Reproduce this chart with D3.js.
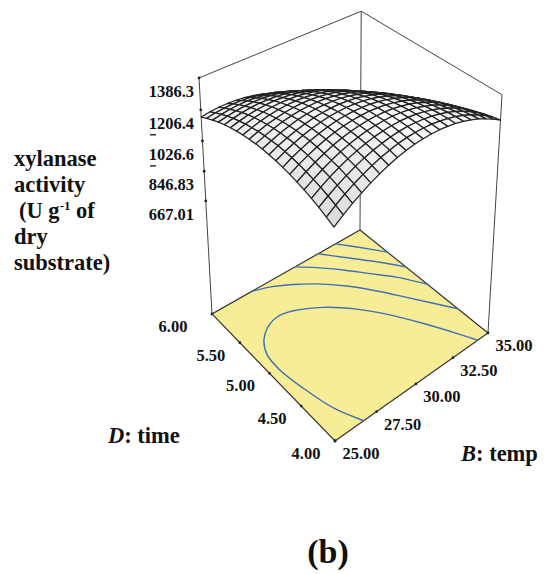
<!DOCTYPE html>
<html>
<head>
<meta charset="utf-8">
<script src="https://cdn.jsdelivr.net/npm/d3@7"></script>
<style>
  html, body { margin: 0; background: #fff; }
  text { font-family: "Liberation Serif", serif; font-weight: bold; fill: #111; }
</style>
</head>
<body>
<div id="chart"></div>
<script>
const tempTicks = [25, 27.5, 30, 32.5, 35];
const timeTicks = [4, 4.5, 5, 5.5, 6];
const zTicks = [1386.3, 1206.4, 1026.6, 846.83, 667.01];
const zTickLabels = ["1386.3", "1206.4", "1026.6", "846.83", "667.01"];

// floor contours as [temp, time]
const contourA = [[26.71,4],[26.09,4.29],[25.71,4.65],[25.51,4.97],[25.59,5.2],[26,5.37],[26.61,5.48],[27.47,5.54],[28.35,5.5],[29.69,5.34],[30.93,5.1],[31.99,4.82],[32.93,4.51],[33.68,4.23],[34.25,4]];
const contourB = [[27.49,6],[28.41,5.93],[29.49,5.8],[30.46,5.65],[31.6,5.42],[32.6,5.16],[33.5,4.89],[34.28,4.65],[35,4.43]];
const contourC = [[30.36,6],[31.24,5.84],[32.22,5.63],[33.17,5.4],[34.08,5.18],[35,4.89]];
const contourD = [[31.97,6],[32.85,5.78],[33.81,5.55],[35,5.23]];
const contourE = [[33.21,6],[34.07,5.78],[35,5.53]];

// rows run along time 4.00 -> 6.00, columns along temp 25 -> 35
const xylanase = [
  [1160,1197,1230,1259,1286,1308,1328,1344,1357,1366,1372,1374,1374,1369,1362,1351,1336,1319,1297,1273,1245],
  [1180,1215,1247,1275,1300,1321,1339,1354,1365,1373,1377,1378,1376,1370,1361,1349,1333,1314,1291,1265,1236],
  [1198,1232,1262,1288,1312,1332,1348,1361,1371,1378,1381,1380,1376,1369,1359,1345,1328,1307,1283,1255,1224],
  [1214,1246,1275,1300,1322,1340,1355,1367,1375,1380,1382,1380,1375,1366,1354,1339,1320,1298,1272,1243,1211],
  [1228,1258,1285,1309,1330,1347,1360,1371,1377,1381,1381,1378,1371,1361,1347,1331,1310,1287,1260,1229,1196],
  [1239,1268,1294,1316,1336,1351,1363,1372,1377,1379,1378,1373,1365,1354,1339,1320,1299,1274,1245,1213,1178],
  [1249,1277,1301,1322,1339,1353,1364,1371,1375,1376,1373,1367,1357,1344,1328,1308,1285,1259,1229,1195,1159],
  [1256,1283,1305,1325,1341,1354,1363,1369,1371,1370,1366,1358,1347,1333,1315,1294,1269,1241,1210,1175,1137],
  [1262,1287,1308,1326,1341,1352,1360,1364,1365,1363,1357,1348,1335,1319,1300,1277,1251,1222,1189,1153,1113],
  [1265,1289,1308,1325,1338,1348,1354,1357,1357,1353,1346,1335,1321,1304,1283,1259,1231,1201,1166,1129,1087],
  [1267,1288,1307,1322,1334,1342,1347,1348,1346,1341,1332,1320,1305,1286,1264,1238,1209,1177,1141,1102,1060],
  [1266,1286,1303,1317,1327,1334,1337,1337,1334,1327,1317,1304,1287,1266,1243,1216,1185,1151,1114,1074,1030],
  [1263,1282,1297,1309,1318,1324,1326,1324,1319,1311,1300,1285,1266,1245,1219,1191,1159,1124,1085,1043,998],
  [1258,1275,1289,1300,1307,1311,1312,1309,1303,1293,1280,1264,1244,1221,1194,1164,1131,1094,1054,1010,964],
  [1251,1267,1280,1289,1295,1297,1296,1292,1284,1273,1259,1241,1219,1195,1167,1135,1101,1062,1021,976,927],
  [1242,1256,1268,1275,1280,1281,1278,1273,1263,1251,1235,1216,1193,1167,1137,1104,1068,1029,985,939,889],
  [1231,1244,1254,1260,1263,1262,1258,1251,1241,1227,1209,1188,1164,1137,1106,1071,1034,993,948,900,849],
  [1218,1229,1237,1242,1244,1242,1237,1228,1216,1200,1181,1159,1134,1105,1072,1036,997,955,909,859,807],
  [1202,1212,1219,1223,1223,1219,1212,1202,1189,1172,1152,1128,1101,1070,1036,999,959,915,867,816,762],
  [1185,1194,1199,1201,1199,1195,1186,1175,1160,1141,1120,1094,1066,1034,999,960,918,872,824,771,716],
  [1165,1173,1177,1177,1174,1168,1158,1145,1129,1109,1086,1059,1029,996,959,919,875,828,778,724,667]
];

const width = 547;
const height = 574;
const nCols = xylanase[0].length;
const nRows = xylanase.length;

const svg = d3
  .select("#chart")
  .append("svg")
  .attr("width", width)
  .attr("height", height)
  .attr("viewBox", [0, 0, width, height])
  .style("display", "block");

const tempScale = d3.scaleLinear().domain([25, 35]).range([0, 1]);
const timeScale = d3.scaleLinear().domain([4, 6]).range([0, 1]);
const zScale = d3.scaleLinear().domain([667.01, 1386.3]).range([0.502, 1]);
const colScale = d3.scaleLinear().domain([0, nCols - 1]).range([0, 1]);
const rowScale = d3.scaleLinear().domain([0, nRows - 1]).range([0, 1]);

// perspective box: floor homography plus a vanishing point for the uprights
const front = [335, 441], right = [488, 333], back = [360, 230], left = [212, 314];
const vanish = [346, 2751];
const lift = -0.1005;

const dx1 = right[0] - back[0], dy1 = right[1] - back[1];
const dx2 = left[0] - back[0], dy2 = left[1] - back[1];
const sx = front[0] - right[0] + back[0] - left[0];
const sy = front[1] - right[1] + back[1] - left[1];
const det = dx1 * dy2 - dy1 * dx2;
const g = (sx * dy2 - sy * dx2) / det;
const h = (dx1 * sy - dy1 * sx) / det;
const a = right[0] * (1 + g) - front[0], b = left[0] * (1 + h) - front[0];
const d = right[1] * (1 + g) - front[1], e = left[1] * (1 + h) - front[1];

function project(u, v, w) {
  const den = g * u + h * v + 1 + lift * w;
  return [
    (a * u + b * v + front[0] + lift * w * vanish[0]) / den,
    (d * u + e * v + front[1] + lift * w * vanish[1]) / den,
  ];
}

const line = d3.line();

// uprights and top rails of the box
const frame = [
  [[0, 1, 0], [0, 1, 1]],
  [[1, 0, 0], [1, 0, 1]],
  [[1, 1, 0], [1, 1, 1]],
  [[0, 1, 1], [1, 1, 1]],
  [[1, 0, 1], [1, 1, 1]],
];
svg
  .append("g")
  .selectAll("path")
  .data(frame)
  .join("path")
  .attr("d", (s) => line(s.map((p) => project(...p))))
  .attr("fill", "none")
  .attr("stroke", "#444")
  .attr("stroke-width", 1);

// floor
svg
  .append("path")
  .attr("d", line([[0, 0], [1, 0], [1, 1], [0, 1]].map((p) => project(p[0], p[1], 0))) + "Z")
  .attr("fill", "#f6ed96")
  .attr("stroke", "#333")
  .attr("stroke-width", 1.2);

// contours on the floor
const contourLine = d3.line().curve(d3.curveCatmullRom);
svg
  .append("g")
  .selectAll("path")
  .data([contourA, contourB, contourC, contourD, contourE])
  .join("path")
  .attr("d", (c) => contourLine(c.map((p) => project(tempScale(p[0]), timeScale(p[1]), 0))))
  .attr("fill", "none")
  .attr("stroke", "#3f6fb4")
  .attr("stroke-width", 1.4);

// surface cells, far corner first so the near ones paint over
const cells = [];
for (let j = nRows - 2; j >= 0; j--) {
  for (let i = nCols - 2; i >= 0; i--) {
    cells.push({ i, j });
  }
}
const shade = d3.scaleLinear().domain([0, 45]).range(["#fcfcfc", "#dadada"]).clamp(true);
const slopeOf = ({ i, j }) => {
  const du = (xylanase[j][i + 1] + xylanase[j + 1][i + 1] - xylanase[j][i] - xylanase[j + 1][i]) / 2;
  const dv = (xylanase[j + 1][i] + xylanase[j + 1][i + 1] - xylanase[j][i] - xylanase[j][i + 1]) / 2;
  return Math.hypot(du, dv);
};
const node = (i, j) => project(colScale(i), rowScale(j), zScale(xylanase[j][i]));

svg
  .append("g")
  .selectAll("path")
  .data(cells)
  .join("path")
  .attr("d", (c) => line([node(c.i, c.j), node(c.i + 1, c.j), node(c.i + 1, c.j + 1), node(c.i, c.j + 1)]) + "Z")
  .attr("fill", (c) => shade(slopeOf(c)))
  .attr("stroke", "#222")
  .attr("stroke-width", 1.25)
  .attr("stroke-linejoin", "round");

// ticks
const tickDots = [
  ...zTicks.map((z) => project(0, 1, zScale(z))),
  ...timeTicks.map((t) => project(0, timeScale(t), 0)),
  ...tempTicks.map((t) => project(tempScale(t), 0, 0)),
];
svg
  .append("g")
  .selectAll("circle")
  .data(tickDots)
  .join("circle")
  .attr("cx", (p) => p[0])
  .attr("cy", (p) => p[1])
  .attr("r", 1.4)
  .attr("fill", "#222");

svg
  .append("g")
  .selectAll("text")
  .data(zTicks)
  .join("text")
  .attr("x", 194)
  .attr("y", (z) => project(0, 1, zScale(z))[1] + 19)
  .attr("text-anchor", "end")
  .attr("font-size", 16.5)
  .text((z, i) => zTickLabels[i]);

// the stray dashes under two of the z labels
svg
  .append("g")
  .selectAll("line")
  .data([1206.4, 1026.6])
  .join("line")
  .attr("x1", 150)
  .attr("x2", 156)
  .attr("y1", (z) => project(0, 1, zScale(z))[1] + 25)
  .attr("y2", (z) => project(0, 1, zScale(z))[1] + 25)
  .attr("stroke", "#222")
  .attr("stroke-width", 1.4);

svg
  .append("g")
  .selectAll("text")
  .data(timeTicks)
  .join("text")
  .attr("x", (t) => project(0, timeScale(t), 0)[0] - (t === 6 ? 39 : 29))
  .attr("y", (t) => project(0, timeScale(t), 0)[1] + 18)
  .attr("text-anchor", "middle")
  .attr("font-size", 16.5)
  .text((t) => d3.format(".2f")(t));

svg
  .append("g")
  .selectAll("text")
  .data(tempTicks)
  .join("text")
  .attr("x", (t) => project(tempScale(t), 0, 0)[0] + 26)
  .attr("y", (t) => project(tempScale(t), 0, 0)[1] + 18)
  .attr("text-anchor", "middle")
  .attr("font-size", 16.5)
  .text((t) => d3.format(".2f")(t));

// z title
const zTitle = svg.append("g").attr("font-size", 22.5);
zTitle.append("text").attr("x", 14).attr("y", 166).text("xylanase");
zTitle.append("text").attr("x", 14).attr("y", 192).text("activity");
const unit = zTitle.append("text").attr("x", 19).attr("y", 218);
unit.append("tspan").text("(U g");
unit.append("tspan").attr("dy", -8).attr("font-size", 13).text("-1");
unit.append("tspan").attr("dy", 8).text(" of");
zTitle.append("text").attr("x", 14).attr("y", 244).text("dry");
zTitle.append("text").attr("x", 14).attr("y", 270).text("substrate)");

// axis titles
const timeTitle = svg.append("text").attr("x", 108).attr("y", 443).attr("font-size", 22.5);
timeTitle.append("tspan").attr("font-style", "italic").text("D");
timeTitle.append("tspan").text(": time");
const tempTitle = svg.append("text").attr("x", 461).attr("y", 461).attr("font-size", 22.5);
tempTitle.append("tspan").attr("font-style", "italic").text("B");
tempTitle.append("tspan").text(": temp");

svg.append("text").attr("x", 328).attr("y", 563).attr("text-anchor", "middle").attr("font-size", 34).text("(b)");
</script>
</body>
</html>
